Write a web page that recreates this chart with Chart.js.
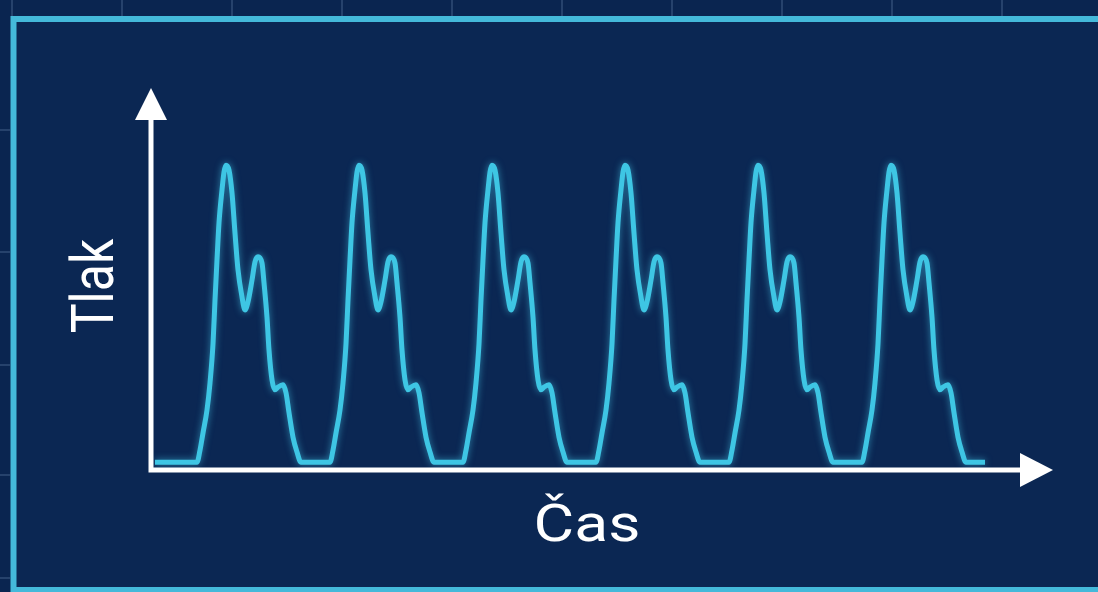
<!DOCTYPE html>
<html lang="cs">
<head>
  <meta charset="UTF-8">
  <title>Tlak / Čas</title>
  <script src="https://cdn.jsdelivr.net/npm/chart.js"></script>
  <style>
    html, body { margin: 0; padding: 0; background: #0a2550; overflow: hidden; }
    canvas { display: block; }
  </style>
</head>
<body>
  <canvas id="pulseChart" width="1098" height="592"></canvas>
  <script>
    // time (arbitrary units) and pressure (% of axis height)
    const cas = [
      4,
      46, 49, 52, 56, 59, 62, 64, 66, 68, 71, 73, 75, 78, 81, 84, 87, 91, 94, 97, 101, 104, 107, 111, 113, 116, 118, 121, 124, 127, 132, 135, 138, 142, 146, 150,
      179, 182, 185, 189, 192, 195, 197, 199, 201, 204, 206, 208, 211, 214, 217, 220, 224, 227, 230, 234, 237, 240, 244, 246, 249, 251, 254, 257, 260, 265, 268, 271, 275, 279, 283,
      312, 315, 318, 322, 325, 328, 330, 332, 334, 337, 339, 341, 344, 347, 350, 353, 357, 360, 363, 367, 370, 373, 377, 379, 382, 384, 387, 390, 393, 398, 401, 404, 408, 412, 416,
      445, 448, 451, 455, 458, 461, 463, 465, 467, 470, 472, 474, 477, 480, 483, 486, 490, 493, 496, 500, 503, 506, 510, 512, 515, 517, 520, 523, 526, 531, 534, 537, 541, 545, 549,
      578, 581, 584, 588, 591, 594, 596, 598, 600, 603, 605, 607, 610, 613, 616, 619, 623, 626, 629, 633, 636, 639, 643, 645, 648, 650, 653, 656, 659, 664, 667, 670, 674, 678, 682,
      711, 714, 717, 721, 724, 727, 729, 731, 733, 736, 738, 740, 743, 746, 749, 752, 756, 759, 762, 766, 769, 772, 776, 778, 781, 783, 786, 789, 792, 797, 800, 803, 807, 811, 815,
      834
    ];
    const tlak = [
      2,
      2, 5.2, 9.7, 15.7, 22.8, 33, 44.5, 55, 64.7, 73.3, 78, 79.8, 78.5, 72.5, 62, 52.4, 45.3, 41.9, 44, 49.7, 54.5, 55.8, 54.2, 49, 40, 31.4, 23.6, 21, 21.7, 22.3, 20.2, 15, 8.6, 4.7, 2,
      2, 5.2, 9.7, 15.7, 22.8, 33, 44.5, 55, 64.7, 73.3, 78, 79.8, 78.5, 72.5, 62, 52.4, 45.3, 41.9, 44, 49.7, 54.5, 55.8, 54.2, 49, 40, 31.4, 23.6, 21, 21.7, 22.3, 20.2, 15, 8.6, 4.7, 2,
      2, 5.2, 9.7, 15.7, 22.8, 33, 44.5, 55, 64.7, 73.3, 78, 79.8, 78.5, 72.5, 62, 52.4, 45.3, 41.9, 44, 49.7, 54.5, 55.8, 54.2, 49, 40, 31.4, 23.6, 21, 21.7, 22.3, 20.2, 15, 8.6, 4.7, 2,
      2, 5.2, 9.7, 15.7, 22.8, 33, 44.5, 55, 64.7, 73.3, 78, 79.8, 78.5, 72.5, 62, 52.4, 45.3, 41.9, 44, 49.7, 54.5, 55.8, 54.2, 49, 40, 31.4, 23.6, 21, 21.7, 22.3, 20.2, 15, 8.6, 4.7, 2,
      2, 5.2, 9.7, 15.7, 22.8, 33, 44.5, 55, 64.7, 73.3, 78, 79.8, 78.5, 72.5, 62, 52.4, 45.3, 41.9, 44, 49.7, 54.5, 55.8, 54.2, 49, 40, 31.4, 23.6, 21, 21.7, 22.3, 20.2, 15, 8.6, 4.7, 2,
      2, 5.2, 9.7, 15.7, 22.8, 33, 44.5, 55, 64.7, 73.3, 78, 79.8, 78.5, 72.5, 62, 52.4, 45.3, 41.9, 44, 49.7, 54.5, 55.8, 54.2, 49, 40, 31.4, 23.6, 21, 21.7, 22.3, 20.2, 15, 8.6, 4.7, 2,
      2
    ];
    const xLabel = 'Čas';
    const yLabel = 'Tlak';

    const points = cas.map((t, i) => ({ x: t, y: tlak[i] }));

    // background grid, cyan frame
    const panel = {
      id: 'panel',
      beforeDraw(chart) {
        const ctx = chart.ctx;
        ctx.save();
        ctx.fillStyle = '#0a2550';
        ctx.fillRect(0, 0, chart.width, chart.height);
        ctx.strokeStyle = 'rgba(120,150,190,0.35)';
        ctx.lineWidth = 1.5;
        for (let x = 12; x < chart.width; x += 110) {
          ctx.beginPath(); ctx.moveTo(x, 0); ctx.lineTo(x, 16); ctx.stroke();
        }
        [130, 252, 365, 475, 578].forEach(y => {
          ctx.beginPath(); ctx.moveTo(0, y); ctx.lineTo(10, y); ctx.stroke();
        });
        ctx.fillStyle = '#0b2753';
        ctx.fillRect(14, 19, chart.width, chart.height);
        ctx.strokeStyle = '#44b9da';
        ctx.lineWidth = 6;
        ctx.strokeRect(13.5, 19, chart.width + 20, chart.height - 21);
        ctx.restore();
      }
    };

    // soft glow on the curve
    const glow = {
      id: 'glow',
      beforeDatasetsDraw(chart) {
        chart.ctx.save();
        chart.ctx.shadowColor = 'rgba(70,200,235,0.6)';
        chart.ctx.shadowBlur = 7;
      },
      afterDatasetsDraw(chart) {
        chart.ctx.restore();
      }
    };

    // white axes with arrow heads and labels
    const arrows = {
      id: 'arrows',
      afterDatasetsDraw(chart) {
        const ctx = chart.ctx;
        const a = chart.chartArea;
        ctx.save();
        ctx.strokeStyle = '#ffffff';
        ctx.fillStyle = '#ffffff';
        ctx.lineWidth = 5;
        ctx.beginPath();
        ctx.moveTo(a.left, 115);
        ctx.lineTo(a.left, a.bottom);
        ctx.lineTo(a.right - 30, a.bottom);
        ctx.stroke();
        ctx.beginPath();
        ctx.moveTo(a.left, a.top);
        ctx.lineTo(a.left - 16, a.top + 32);
        ctx.lineTo(a.left + 16, a.top + 32);
        ctx.closePath();
        ctx.fill();
        ctx.beginPath();
        ctx.moveTo(a.right, a.bottom);
        ctx.lineTo(a.right - 33, a.bottom - 17);
        ctx.lineTo(a.right - 33, a.bottom + 17);
        ctx.closePath();
        ctx.fill();

        ctx.textAlign = 'center';
        ctx.textBaseline = 'middle';
        ctx.save();
        ctx.font = '52px Roboto';
        ctx.translate(587, 528);
        ctx.scale(1.2, 1);
        ctx.fillText(xLabel, 0, 0);
        ctx.restore();
        ctx.font = '50px Roboto';
        ctx.translate(96, 286);
        ctx.rotate(-Math.PI / 2);
        ctx.scale(1, 1.2);
        ctx.fillText(yLabel, 0, 2);
        ctx.restore();
      }
    };

    new Chart(document.getElementById('pulseChart'), {
      type: 'line',
      data: {
        datasets: [{
          data: points,
          borderColor: '#3ec6e4',
          borderWidth: 5,
          pointRadius: 0,
          fill: false,
          cubicInterpolationMode: 'monotone'
        }]
      },
      options: {
        responsive: false,
        animation: false,
        layout: { padding: { left: 151, right: 45, top: 88, bottom: 122 } },
        scales: {
          x: { type: 'linear', min: 0, max: 902, display: false },
          y: { min: 0, max: 100, display: false }
        },
        plugins: { legend: { display: false }, tooltip: { enabled: false } }
      },
      plugins: [panel, glow, arrows]
    });
  </script>
</body>
</html>
